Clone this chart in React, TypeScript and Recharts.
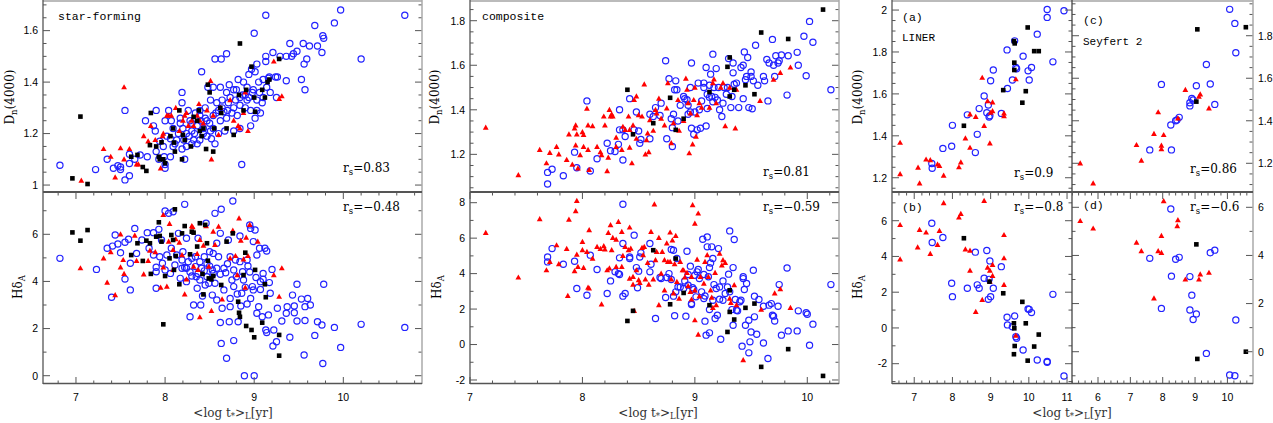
import React from 'react';
import { ScatterChart, Scatter, XAxis, YAxis } from 'recharts';

type Pt = [number, number];

// ---------------- star-forming ----------------
const sfDnBlue: Pt[] = [
  [6.82,1.077],[7.22,1.06],[7.55,1.29],[7.55,1.02],[7.6,1.036],[7.6,1.084],[7.35,1.1],[7.42,1.065],[7.47,1.075],[7.5,1.07],
  [7.5,1.06],[7.6,1.12],[7.66,1.1],[7.72,1.117],[7.8,1.11],[7.78,1.25],[7.9,1.29],[7.87,1.23],[7.89,1.21],[7.9,1.13],
  [7.94,1.17],[7.99,1.11],[8.0,1.08],[8.0,1.065],[7.98,1.15],[7.93,1.1],[8.06,1.11],[8.02,1.19],[8.0,1.25],[8.04,1.29],
  [8.07,1.25],[8.09,1.22],[8.11,1.16],[8.15,1.2],[8.19,1.36],[8.19,1.32],[8.17,1.24],[8.21,1.175],[8.22,1.1],[8.24,1.15],
  [8.26,1.29],[8.28,1.25],[8.3,1.21],[8.32,1.175],[8.36,1.23],[8.39,1.27],[8.41,1.44],[8.43,1.2],[8.45,1.3],[8.47,1.25],
  [8.51,1.33],[8.48,1.38],[8.54,1.27],[8.56,1.49],[8.56,1.16],[8.6,1.29],[8.62,1.38],[8.63,1.49],[8.64,1.33],[8.66,1.285],
  [8.69,1.51],[8.69,1.36],[8.71,1.32],[8.72,1.39],[8.75,1.28],[8.77,1.21],[8.79,1.33],[8.8,1.37],[8.82,1.41],[8.84,1.31],
  [8.86,1.08],[8.88,1.4],[8.9,1.35],[8.92,1.33],[8.94,1.43],[8.96,1.29],[8.97,1.45],[8.99,1.37],[9.0,1.59],[9.01,1.26],
  [9.03,1.47],[9.03,1.33],[9.05,1.4],[9.07,1.28],[9.1,1.34],[9.13,1.66],[9.13,1.5],[9.13,1.48],[9.14,1.38],[9.16,1.415],
  [9.18,1.36],[9.21,1.515],[9.24,1.42],[9.25,1.34],[9.26,1.42],[9.29,1.5],[9.36,1.405],[9.36,1.5],[9.4,1.55],[9.42,1.5],
  [9.44,1.51],[9.48,1.52],[9.53,1.41],[9.55,1.55],[9.56,1.47],[9.57,1.37],[9.59,1.49],[9.62,1.54],[9.68,1.62],[9.71,1.54],
  [9.76,1.515],[9.77,1.58],[9.78,1.57],[9.9,1.63],[9.97,1.68],[10.2,1.49],[10.69,1.66],
  [8.39,1.175],[8.47,1.19],[8.36,1.16],[8.43,1.22],[8.54,1.22],[8.62,1.25],[8.69,1.26],[8.77,1.3],[8.84,1.34],[8.92,1.38],
  [8.77,1.37],[8.73,1.34],[8.58,1.32],[8.54,1.38],[8.24,1.2],[8.3,1.24],[8.34,1.28],[8.39,1.29],[8.51,1.21],[8.6,1.2],
  [8.67,1.21],[8.84,1.22],[8.9,1.3],[8.96,1.23],[9.03,1.29],[9.09,1.32],[9.1,1.41],[9.17,1.42],[9.01,1.44],[8.94,1.34],
  [8.13,1.175],[8.19,1.14],[8.3,1.16],[8.09,1.15],[8.06,1.18],[8.17,1.26],[8.27,1.19],[8.33,1.2],[8.45,1.26],[8.5,1.24],
  [8.57,1.28],[8.64,1.3],[8.7,1.29],[8.81,1.27],[8.87,1.35],[8.98,1.36],[9.06,1.36],[8.2,1.22],[8.4,1.25],[8.52,1.18]
];
const sfDnRed: Pt[] = [
  [7.06,1.017],[7.31,1.14],[7.39,1.11],[7.44,1.03],[7.5,1.143],[7.54,1.1],[7.54,1.38],[7.6,1.14],[7.68,1.08],[7.7,1.08],
  [7.76,1.19],[7.81,1.17],[7.84,1.23],[7.89,1.175],[7.95,1.065],[7.97,1.19],[7.98,1.2],[8.02,1.27],[8.04,1.27],[8.07,1.27],
  [8.12,1.3],[8.16,1.21],[8.2,1.25],[8.22,1.27],[8.24,1.28],[8.36,1.27],[8.38,1.315],[8.39,1.25],[8.43,1.24],[8.51,1.405],
  [8.52,1.1],[8.54,1.27],[8.6,1.195],[8.62,1.3],[8.73,1.33],[8.77,1.25],[8.82,1.23],[8.84,1.22],[8.88,1.28],[8.9,1.36],
  [8.93,1.21],[9.22,1.48],[9.28,1.335],[9.31,1.345],[8.3,1.25],[8.32,1.23],[8.26,1.23],[8.47,1.29]
];
const sfDnBlack: Pt[] = [
  [6.96,1.026],[7.05,1.266],[7.13,1.004],[7.62,1.11],[7.69,1.117],[7.75,1.07],[7.79,1.055],[7.83,1.155],[7.84,1.28],[7.9,1.15],
  [7.93,1.11],[7.94,1.1],[7.98,1.1],[7.96,1.166],[8.0,1.085],[8.06,1.19],[8.09,1.22],[8.1,1.165],[8.11,1.13],[8.16,1.29],
  [8.19,1.1],[8.2,1.195],[8.22,1.175],[8.29,1.15],[8.32,1.265],[8.36,1.25],[8.38,1.29],[8.39,1.21],[8.41,1.19],[8.43,1.22],
  [8.46,1.14],[8.48,1.39],[8.5,1.36],[8.54,1.13],[8.55,1.22],[8.62,1.3],[8.63,1.28],[8.69,1.22],[8.77,1.195],[8.84,1.55],
  [8.83,1.35],[8.88,1.29],[8.91,1.37],[8.97,1.46],[9.0,1.34],[9.01,1.285],[9.09,1.37],[9.12,1.34],[9.15,1.4],[9.17,1.41],
  [9.28,1.49]
];
const sfHdBlue: Pt[] = [
  [6.82,4.98],[7.23,4.51],[7.4,3.33],[7.35,5.41],[7.41,5.5],[7.44,5.97],[7.47,5.59],[7.5,5.22],[7.55,4.1],[7.55,5.66],
  [7.59,5.79],[7.61,3.64],[7.61,4.77],[7.66,6.25],[7.68,5.19],[7.74,5.76],[7.8,6.07],[7.82,5.41],[7.87,6.07],[7.87,5.12],
  [7.9,4.6],[7.9,3.71],[7.93,6.21],[7.94,5.05],[7.96,5.76],[7.97,4.77],[8.0,6.99],[8.02,5.12],[8.04,6.89],[8.06,4.34],
  [8.07,5.41],[8.09,6.96],[8.11,4.7],[8.15,6.04],[8.17,4.13],[8.19,4.56],[8.2,5.26],[8.22,7.27],[8.24,5.83],[8.26,4.84],
  [8.28,2.5],[8.3,4.23],[8.32,3.0],[8.34,4.63],[8.36,3.71],[8.37,5.83],[8.39,4.06],[8.4,3.0],[8.42,3.38],[8.44,5.05],
  [8.46,6.47],[8.47,4.2],[8.49,3.92],[8.5,5.26],[8.53,3.42],[8.54,4.34],[8.56,6.89],[8.58,5.62],[8.6,5.05],[8.62,6.04],
  [8.62,2.26],[8.63,1.37],[8.63,7.06],[8.64,2.86],[8.66,3.64],[8.68,4.37],[8.69,0.74],[8.71,5.76],[8.72,2.29],[8.73,2.93],
  [8.75,4.06],[8.76,7.41],[8.77,1.49],[8.79,4.91],[8.81,3.47],[8.82,2.29],[8.84,5.93],[8.85,2.96],[8.87,4.41],[8.89,0.0],
  [8.9,3.75],[8.92,3.04],[8.93,4.66],[8.95,6.4],[8.96,6.25],[8.96,3.28],[8.98,3.78],[8.99,5.69],[9.0,0.0],[9.01,6.18],
  [9.02,4.17],[9.03,2.65],[9.05,2.93],[9.06,5.41],[9.07,3.66],[9.09,2.5],[9.1,4.34],[9.12,5.41],[9.13,1.94],[9.14,1.83],
  [9.14,5.29],[9.16,2.58],[9.17,3.95],[9.18,3.5],[9.2,4.51],[9.21,1.26],[9.22,1.94],[9.25,1.44],[9.26,2.86],[9.31,2.32],
  [9.36,2.65],[9.37,2.93],[9.4,1.63],[9.43,3.42],[9.45,2.96],[9.45,2.67],[9.48,2.32],[9.48,3.88],[9.53,3.25],[9.56,0.88],
  [9.57,2.93],[9.57,2.34],[9.6,3.28],[9.63,3.0],[9.68,1.71],[9.71,2.29],[9.76,2.15],[9.77,0.52],[9.78,3.88],[9.9,2.05],
  [9.97,1.2],[10.2,2.18],[10.69,2.05],
  [8.24,4.56],[8.34,5.05],[8.39,4.84],[8.47,4.77],[8.53,4.49],[8.58,4.56],[8.3,4.98],[8.41,4.56],[8.54,5.19],[8.77,4.49],
  [8.84,4.84],[8.92,4.91],[8.99,3.64],[9.03,5.12],[8.73,5.05],[8.66,4.56],[8.19,4.91],[8.13,5.12],[8.24,3.99],[8.37,4.34],
  [8.45,3.85],[8.58,3.21],[8.56,3.92],[8.73,3.28],[8.77,3.78],[8.88,4.06],[9.07,3.99],[9.1,4.09],[7.9,4.41],[8.0,4.49],
  [8.22,4.59],[8.28,4.4],[8.35,4.2],[8.44,4.45],[8.5,4.65],[8.62,4.3],[8.7,4.75],[8.8,4.2],[8.86,3.5],[8.95,4.4]
];
const sfHdRed: Pt[] = [
  [7.05,4.56],[7.31,4.98],[7.35,3.95],[7.39,5.24],[7.44,3.42],[7.5,6.0],[7.5,4.6],[7.53,4.91],[7.54,4.32],[7.66,5.94],
  [7.68,4.87],[7.76,4.3],[7.81,4.87],[7.83,5.31],[7.89,5.24],[7.95,3.74],[7.98,6.82],[7.98,4.6],[8.02,3.78],[8.04,5.69],
  [8.05,6.44],[8.09,4.49],[8.12,5.79],[8.16,5.65],[8.22,3.45],[8.24,4.09],[8.3,6.35],[8.31,6.3],[8.36,5.17],[8.39,2.48],
  [8.39,5.76],[8.43,5.52],[8.46,6.35],[8.52,2.75],[8.54,6.11],[8.56,5.55],[8.6,6.33],[8.64,3.24],[8.73,4.98],[8.76,6.16],
  [8.79,5.08],[8.81,4.27],[8.83,6.68],[8.85,5.73],[8.88,4.94],[8.9,3.74],[8.91,5.86],[8.93,5.08],[8.95,6.4],[9.04,5.69],
  [9.22,4.27],[9.28,3.35],[9.31,4.56],[8.32,4.63],[8.37,4.49],[8.49,4.63],[8.19,5.12],[8.09,5.34]
];
const sfHdBlack: Pt[] = [
  [6.96,6.08],[7.05,5.73],[7.13,6.18],[7.62,5.12],[7.69,5.62],[7.75,4.87],[7.79,5.73],[7.83,5.62],[7.84,4.32],[7.9,5.9],
  [7.93,6.51],[7.94,5.93],[7.96,5.69],[7.98,2.18],[8.0,4.23],[8.05,4.98],[8.07,5.97],[8.09,5.76],[8.1,4.49],[8.11,7.06],
  [8.12,5.08],[8.16,3.88],[8.19,6.04],[8.22,6.35],[8.28,5.15],[8.3,6.11],[8.32,6.07],[8.36,5.48],[8.39,6.47],[8.42,4.32],
  [8.43,3.45],[8.45,6.4],[8.47,5.62],[8.48,4.88],[8.49,4.13],[8.52,4.09],[8.54,4.23],[8.63,3.85],[8.69,5.69],[8.76,6.04],
  [8.82,3.14],[8.83,2.67],[8.84,2.5],[8.88,4.27],[8.9,5.22],[8.91,2.11],[8.97,1.94],[9.0,1.63],[9.01,4.49],[9.09,2.25],
  [9.12,3.88],[9.13,3.33],[9.28,1.73],[9.28,0.85]
];

// ---------------- composite ----------------
const coDnBlue: Pt[] = [
  [7.69,1.067],[7.69,1.119],[7.73,1.133],[7.83,1.104],[7.93,1.21],[7.95,1.14],[8.04,1.44],[8.07,1.125],[8.13,1.18],[8.22,1.25],
  [8.25,1.216],[8.29,1.213],[8.32,1.245],[8.33,1.31],[8.36,1.175],[8.36,1.31],[8.38,1.28],[8.33,1.4],[8.42,1.45],[8.46,1.31],
  [8.48,1.39],[8.5,1.305],[8.51,1.25],[8.52,1.267],[8.6,1.27],[8.6,1.38],[8.63,1.37],[8.65,1.41],[8.69,1.375],[8.7,1.43],
  [8.74,1.62],[8.75,1.27],[8.77,1.54],[8.79,1.36],[8.8,1.32],[8.8,1.235],[8.81,1.38],[8.82,1.49],[8.83,1.53],[8.84,1.49],
  [8.85,1.35],[8.87,1.42],[8.9,1.46],[8.91,1.45],[8.93,1.445],[8.94,1.38],[8.94,1.42],[8.96,1.39],[8.96,1.5],[8.97,1.61],
  [8.97,1.317],[8.99,1.29],[9.0,1.39],[9.02,1.31],[9.03,1.52],[9.04,1.4],[9.05,1.317],[9.06,1.44],[9.08,1.52],[9.08,1.5],
  [9.1,1.59],[9.1,1.327],[9.11,1.406],[9.11,1.47],[9.13,1.51],[9.13,1.456],[9.14,1.56],[9.15,1.46],[9.16,1.65],[9.16,1.436],
  [9.17,1.5],[9.18,1.456],[9.19,1.585],[9.2,1.444],[9.21,1.5],[9.22,1.4],[9.24,1.37],[9.25,1.43],[9.26,1.5],[9.28,1.47],
  [9.29,1.5],[9.3,1.63],[9.32,1.41],[9.33,1.46],[9.34,1.566],[9.34,1.61],[9.35,1.515],[9.37,1.52],[9.39,1.41],[9.41,1.59],
  [9.43,1.6],[9.43,1.45],[9.44,1.66],[9.45,1.535],[9.46,1.55],[9.47,1.635],[9.48,1.41],[9.5,1.57],[9.5,1.55],[9.51,1.405],
  [9.52,1.53],[9.54,1.69],[9.56,1.51],[9.61,1.55],[9.62,1.53],[9.64,1.626],[9.65,1.44],[9.66,1.61],[9.69,1.716],[9.7,1.6],
  [9.71,1.55],[9.72,1.643],[9.74,1.61],[9.75,1.62],[9.77,1.646],[9.82,1.466],[9.83,1.643],[9.91,1.658],[9.92,1.6],[9.97,1.73],
  [9.99,1.553],[10.02,1.797],[10.05,1.703],[10.21,1.49]
];
const coDnRed: Pt[] = [
  [7.14,1.32],[7.43,1.107],[7.62,1.22],[7.68,1.16],[7.71,1.207],[7.77,1.234],[7.79,1.2],[7.86,1.175],[7.88,1.29],[7.91,1.154],
  [7.93,1.317],[7.94,1.33],[7.94,1.24],[7.95,1.29],[7.96,1.137],[7.98,1.197],[8.0,1.3],[8.01,1.287],[8.01,1.234],[8.04,1.405],
  [8.05,1.33],[8.05,1.22],[8.06,1.13],[8.09,1.327],[8.13,1.234],[8.16,1.21],[8.17,1.197],[8.19,1.37],[8.2,1.33],[8.22,1.125],
  [8.23,1.185],[8.24,1.4],[8.25,1.37],[8.26,1.38],[8.27,1.37],[8.3,1.275],[8.3,1.234],[8.35,1.22],[8.36,1.324],[8.38,1.31],
  [8.41,1.37],[8.42,1.23],[8.42,1.31],[8.44,1.16],[8.45,1.33],[8.46,1.444],[8.48,1.46],[8.48,1.27],[8.5,1.376],[8.53,1.37],
  [8.55,1.514],[8.56,1.2],[8.57,1.264],[8.58,1.294],[8.59,1.21],[8.6,1.354],[8.63,1.306],[8.65,1.4],[8.66,1.384],[8.68,1.45],
  [8.7,1.36],[8.73,1.33],[8.75,1.406],[8.76,1.52],[8.79,1.25],[8.81,1.34],[8.85,1.444],[8.86,1.306],[8.9,1.35],[8.92,1.54],
  [8.93,1.49],[8.94,1.43],[8.95,1.205],[8.96,1.384],[8.98,1.245],[8.99,1.444],[9.0,1.5],[9.01,1.28],[9.02,1.376],[9.04,1.43],
  [9.06,1.41],[9.13,1.41],[9.16,1.52],[9.17,1.537],[9.19,1.43],[9.23,1.5],[9.25,1.52],[9.27,1.327],[9.31,1.5],[9.36,1.317],
  [9.37,1.49],[9.58,1.44],[9.7,1.535],[9.76,1.566],[9.85,1.59]
];
const coDnBlack: Pt[] = [
  [8.4,1.49],[8.45,1.29],[8.63,1.34],[8.78,1.454],[8.83,1.31],[8.9,1.36],[9.13,1.48],[9.29,1.593],[9.31,1.635],[9.31,1.46],
  [9.35,1.49],[9.45,1.51],[9.53,1.47],[9.59,1.747],[9.83,1.718],[10.14,1.85]
];
const coHdBlue: Pt[] = [
  [7.69,4.94],[7.69,4.66],[7.73,5.41],[7.83,4.53],[7.93,4.7],[7.95,3.16],[8.04,2.78],[8.07,5.04],[8.13,4.23],[8.22,2.88],
  [8.25,3.59],[8.29,4.1],[8.32,4.0],[8.33,3.95],[8.33,4.89],[8.36,2.73],[8.36,5.7],[8.36,7.91],[8.38,2.88],[8.42,4.85],
  [8.42,4.94],[8.46,6.17],[8.48,4.34],[8.49,3.2],[8.5,4.14],[8.51,4.94],[8.52,5.17],[8.6,5.7],[8.6,4.1],[8.61,4.53],
  [8.65,1.47],[8.69,3.78],[8.7,3.72],[8.74,2.65],[8.75,3.78],[8.77,4.0],[8.79,5.36],[8.79,3.67],[8.81,5.32],[8.81,2.73],
  [8.82,1.62],[8.83,2.97],[8.84,4.85],[8.85,3.25],[8.87,3.25],[8.9,3.16],[8.91,3.59],[8.92,1.6],[8.93,5.26],[8.94,3.95],
  [8.94,3.35],[8.96,4.42],[8.97,2.31],[8.97,2.26],[8.98,3.2],[8.99,3.1],[9.0,3.91],[9.01,2.69],[9.02,4.1],[9.03,4.23],
  [9.04,3.72],[9.06,2.97],[9.07,5.94],[9.08,3.95],[9.08,2.59],[9.09,2.74],[9.09,1.32],[9.1,0.53],[9.11,6.07],[9.11,5.51],
  [9.12,3.82],[9.13,1.97],[9.13,4.34],[9.13,0.66],[9.14,4.6],[9.15,5.51],[9.16,4.85],[9.16,2.5],[9.17,3.38],[9.18,1.47],
  [9.19,3.16],[9.2,1.65],[9.21,5.41],[9.22,2.56],[9.22,3.25],[9.23,0.3],[9.25,3.59],[9.25,2.5],[9.27,2.88],[9.29,3.25],
  [9.3,3.97],[9.31,2.97],[9.31,6.41],[9.33,1.97],[9.34,4.34],[9.34,1.09],[9.35,5.92],[9.36,2.54],[9.37,1.94],[9.38,1.9],
  [9.4,2.41],[9.41,2.5],[9.42,-0.09],[9.43,3.82],[9.43,3.72],[9.44,3.1],[9.45,1.09],[9.46,3.44],[9.48,1.37],[9.48,-0.47],
  [9.49,0.15],[9.5,0.71],[9.52,4.19],[9.53,2.73],[9.53,1.56],[9.55,0.58],[9.57,2.54],[9.61,2.16],[9.61,0.09],[9.65,-0.79],
  [9.66,2.22],[9.68,2.31],[9.69,1.65],[9.7,1.6],[9.71,1.33],[9.74,2.16],[9.75,3.38],[9.77,0.53],[9.82,4.32],[9.83,0.77],
  [9.91,0.77],[9.92,1.9],[9.99,1.79],[10.0,1.71],[10.02,-0.04],[10.05,1.15],[10.21,3.38]
];
const coHdRed: Pt[] = [
  [7.14,6.3],[7.43,3.78],[7.62,7.07],[7.68,4.19],[7.71,4.66],[7.77,5.6],[7.79,4.53],[7.86,5.39],[7.88,7.05],[7.87,2.74],
  [7.93,4.14],[7.94,7.52],[7.95,8.1],[7.95,5.07],[7.96,4.38],[8.0,5.79],[8.0,5.32],[8.01,4.32],[8.04,5.23],[8.05,3.21],
  [8.06,6.45],[8.06,3.16],[8.09,4.85],[8.13,5.51],[8.16,5.39],[8.17,2.27],[8.19,5.55],[8.2,5.36],[8.22,4.19],[8.23,6.3],
  [8.24,4.29],[8.25,6.73],[8.26,5.32],[8.27,6.02],[8.3,4.38],[8.3,5.92],[8.32,6.92],[8.35,4.38],[8.35,6.35],[8.36,5.0],
  [8.38,5.51],[8.41,5.32],[8.42,6.6],[8.42,3.72],[8.43,5.41],[8.45,3.82],[8.45,3.38],[8.46,1.9],[8.48,4.19],[8.5,3.63],
  [8.51,3.48],[8.53,5.45],[8.54,5.04],[8.55,5.51],[8.56,3.67],[8.58,4.6],[8.59,3.38],[8.61,6.35],[8.63,3.67],[8.64,7.9],
  [8.65,4.76],[8.66,5.23],[8.68,2.22],[8.68,6.02],[8.7,4.0],[8.71,5.23],[8.73,3.06],[8.73,4.76],[8.75,5.7],[8.76,4.66],
  [8.78,6.32],[8.78,4.66],[8.79,3.67],[8.8,5.88],[8.81,2.88],[8.82,4.53],[8.83,6.13],[8.84,3.53],[8.86,2.59],[8.87,4.66],
  [8.89,4.19],[8.9,4.19],[8.91,3.78],[8.93,4.04],[8.94,3.29],[8.96,2.97],[8.97,2.54],[8.97,3.82],[8.98,7.86],[9.0,6.82],
  [9.0,1.37],[9.0,3.06],[9.02,4.79],[9.03,0.56],[9.03,7.39],[9.04,2.72],[9.05,3.82],[9.08,3.44],[9.09,4.66],[9.11,5.04],
  [9.12,3.82],[9.14,3.06],[9.15,2.65],[9.16,2.07],[9.18,4.04],[9.19,2.22],[9.22,5.13],[9.24,4.47],[9.25,4.76],[9.27,4.6],
  [9.31,2.59],[9.32,2.35],[9.35,3.35],[9.37,2.22],[9.43,-0.88],[9.59,1.97],[9.71,2.88],[9.76,3.12],[9.85,2.07]
];
const coHdBlack: Pt[] = [
  [8.4,1.33],[8.45,1.9],[8.63,5.32],[8.78,2.27],[8.83,4.85],[8.9,2.91],[9.13,2.22],[9.29,0.71],[9.31,3.06],[9.31,1.84],
  [9.35,1.41],[9.45,2.07],[9.53,2.31],[9.59,-1.26],[9.83,-0.26],[10.14,-1.77]
];

// ---------------- LINER ----------------
const liDnBlue: Pt[] = [
  [7.46,1.268],[7.47,1.245],[7.75,1.34],[7.98,1.35],[8.0,1.45],[8.39,1.5],[8.6,1.32],[8.65,1.407],[8.7,1.53],[8.83,1.59],
  [8.9,1.51],[8.94,1.547],[8.96,1.49],[8.98,1.496],[9.0,1.663],[9.07,1.714],[9.28,1.507],[9.43,1.81],[9.44,1.626],[9.57,1.666],
  [9.63,1.853],[9.66,1.726],[9.68,1.72],[9.85,1.78],[9.98,1.71],[10.01,1.666],[10.07,1.726],[10.22,1.885],[10.48,1.965],[10.48,2.003],
  [10.63,1.753],[10.92,1.997]
];
const liDnRed: Pt[] = [
  [6.63,1.367],[6.63,1.217],[7.1,1.248],[7.14,1.173],[7.31,1.287],[7.42,1.284],[7.61,1.264],[7.66,1.257],[7.77,1.21],[8.17,1.25],
  [8.22,1.273],[8.34,1.388],[8.46,1.343],[8.46,1.502],[8.61,1.49],[8.78,1.677],[8.83,1.447],[8.92,1.566],[8.98,1.364],[9.0,1.51],
  [9.05,1.56],[9.05,1.518],[9.35,1.507],[9.35,1.494],[9.66,1.67]
];
const liDnBlack: Pt[] = [
  [8.3,1.448],[9.33,1.618],[9.61,1.852],[9.62,1.749],[9.62,1.714],[9.63,1.841],[9.83,1.558],[9.92,1.613],[9.97,1.917],[10.14,1.804],
  [10.26,1.804]
];
const liHdBlue: Pt[] = [
  [7.46,5.86],[7.47,4.78],[7.75,5.06],[7.98,2.5],[8.0,1.75],[8.39,2.22],[8.6,4.24],[8.65,2.41],[8.7,2.22],[8.83,2.78],
  [8.9,4.33],[8.94,1.6],[8.96,2.72],[8.98,3.75],[9.0,1.75],[9.07,2.22],[9.28,3.43],[9.43,0.6],[9.44,0.17],[9.57,0.07],
  [9.63,0.67],[9.66,-0.49],[9.68,-0.58],[9.85,-1.23],[9.98,1.06],[10.01,1.04],[10.07,0.86],[10.22,-1.79],[10.48,-1.88],[10.48,-1.92],
  [10.63,1.88],[10.92,-2.69]
];
const liHdRed: Pt[] = [
  [6.63,5.76],[6.63,3.84],[7.09,4.51],[7.14,5.49],[7.31,5.34],[7.42,4.14],[7.61,4.65],[7.66,5.43],[7.77,6.98],[8.17,6.18],
  [8.22,6.38],[8.34,4.4],[8.46,4.33],[8.46,3.21],[8.61,0.9],[8.78,1.57],[8.83,7.11],[8.92,3.38],[8.98,3.21],[8.98,2.59],
  [9.05,3.53],[9.05,2.91],[9.35,5.2],[9.35,3.9],[9.35,2.41],[9.66,-0.43]
];
const liHdBlack: Pt[] = [
  [8.3,5.02],[8.97,2.59],[9.33,1.94],[9.61,0.26],[9.62,-0.02],[9.63,-1.01],[9.61,-1.47],[9.83,1.46],[9.92,0.26],[9.97,-1.83],
  [10.14,-1.04],[10.26,-0.37]
];

// ---------------- Seyfert 2 ----------------
const syDnBlue: Pt[] = [
  [7.6,1.263],[7.96,1.571],[8.25,1.38],[8.27,1.263],[8.4,1.4],[8.44,1.404],[8.51,1.416],[8.84,1.47],[8.84,1.485],[8.9,1.505],
  [8.94,1.498],[9.04,1.565],[9.35,1.665],[9.47,1.573],[9.61,1.477],[10.07,1.924],[10.23,1.858],[10.26,1.72]
];
const syDnRed: Pt[] = [
  [5.45,1.2],[5.85,1.106],[7.19,1.286],[7.34,1.213],[7.73,1.338],[7.86,1.44],[7.96,1.283],[7.96,1.267],[8.03,1.333],[8.47,1.411],
  [8.7,1.545],[9.12,1.513],[9.16,1.524],[9.43,1.458]
];
const syDnBlack: Pt[] = [[9.07,1.83],[9.04,1.49],[10.57,1.84]];
const syHdBlue: Pt[] = [
  [7.6,3.88],[7.96,1.8],[8.25,5.93],[8.27,3.14],[8.4,3.84],[8.51,3.92],[8.84,3.12],[8.84,1.73],[8.9,2.35],[8.94,1.34],
  [9.04,1.57],[9.47,4.11],[9.61,4.22],[9.35,-0.07],[10.07,-0.97],[10.23,-1.0],[10.26,1.32]
];
const syHdRed: Pt[] = [
  [5.45,5.43],[5.85,5.12],[7.19,4.53],[7.34,4.18],[7.73,2.22],[7.86,4.18],[7.96,4.11],[8.03,6.26],[8.47,5.47],[8.45,5.22],
  [7.96,4.81],[8.7,3.0],[9.12,3.0],[9.16,3.21],[9.43,3.28]
];
const syHdBlack: Pt[] = [[9.04,4.46],[9.07,-0.3],[10.57,0.0]];

// ---------------- helpers ----------------
const toData = (a: Pt[]) => a.map(([x, y]) => ({ x, y }));

function ticksFor(min: number, max: number, step: number): number[] {
  const out: number[] = [];
  const s = Math.ceil(min / step - 1e-9);
  const e = Math.floor(max / step + 1e-9);
  for (let i = s; i <= e; i++) out.push(Math.round(i * step * 10000) / 10000);
  return out;
}
const isMajor = (v: number, step: number) => Math.abs(v / step - Math.round(v / step)) < 1e-6;
const fmt = (v: number) => String(Number(v.toFixed(2)));

const TICK_FONT = '"Liberation Sans", Arial, sans-serif';
const SERIF = '"DejaVu Serif", serif';
const MONO = '"Liberation Mono", monospace';
const TICK_COL = '#555';

const Circ = (p: any) => (
  <circle cx={p.cx} cy={p.cy} r={3.1} fill="none" stroke="#2222ff" strokeWidth={1.2} />
);
const Tri = (p: any) => (
  <path d={`M${p.cx},${p.cy - 3.1}L${p.cx + 2.9},${p.cy + 2.1}L${p.cx - 2.9},${p.cy + 2.1}Z`} fill="#ff0000" />
);
const Sq = (p: any) => <rect x={p.cx - 2.3} y={p.cy - 2.3} width={4.6} height={4.6} fill="#000" />;

interface PanelCfg {
  fx: number; fy: number; fw: number; fh: number;
  xDom: [number, number]; yDom: [number, number];
  xMinor: number; xMajor: number; yMinor: number; yMajor: number;
  xLabels: boolean; ySide: 'left' | 'right';
  blue: Pt[]; red: Pt[]; black: Pt[];
}

function Panel(c: PanelCfg) {
  const AW = 34;
  const XH = c.xLabels ? 24 : 0;
  const w = c.fw + AW;
  const h = c.fh + XH;
  const left = c.ySide === 'left' ? c.fx - AW : c.fx;
  const xt = ticksFor(c.xDom[0], c.xDom[1], c.xMinor);
  const yt = ticksFor(c.yDom[0], c.yDom[1], c.yMinor);

  const XTick = (p: any) => {
    const v = p.payload.value as number;
    const maj = isMajor(v, c.xMajor);
    const len = maj ? 7 : 3.5;
    const x = p.x, y = p.y;
    return (
      <g>
        <line x1={x} x2={x} y1={y} y2={y - len} stroke={TICK_COL} strokeWidth={1} />
        <line x1={x} x2={x} y1={y - c.fh} y2={y - c.fh + len} stroke={TICK_COL} strokeWidth={1} />
        {c.xLabels && maj ? (
          <text x={x} y={y + 17} textAnchor="middle" fontSize={10.5} fontFamily={TICK_FONT} fill="#000">{fmt(v)}</text>
        ) : null}
      </g>
    );
  };
  const YTick = (p: any) => {
    const v = p.payload.value as number;
    const maj = isMajor(v, c.yMajor);
    const len = maj ? 7 : 3.5;
    const x = p.x, y = p.y;
    const sgn = c.ySide === 'left' ? 1 : -1;
    const far = x + sgn * c.fw;
    return (
      <g>
        <line x1={x} x2={x + sgn * len} y1={y} y2={y} stroke={TICK_COL} strokeWidth={1} />
        <line x1={far} x2={far - sgn * len} y1={y} y2={y} stroke={TICK_COL} strokeWidth={1} />
        {maj ? (
          <text x={x - sgn * 5} y={y + 3.8} textAnchor={c.ySide === 'left' ? 'end' : 'start'} fontSize={10.5} fontFamily={TICK_FONT} fill="#000">{fmt(v)}</text>
        ) : null}
      </g>
    );
  };

  return (
    <div style={{ position: 'absolute', left, top: c.fy, width: w, height: h }}>
      <ScatterChart width={w} height={h} margin={{ top: 0, right: 0, bottom: 0, left: 0 }}>
        <XAxis type="number" dataKey="x" domain={c.xDom} allowDataOverflow ticks={xt} interval={0}
          tick={XTick} tickLine={false} axisLine={false} tickSize={0} tickMargin={0} height={XH} />
        <YAxis type="number" dataKey="y" domain={c.yDom} allowDataOverflow ticks={yt} interval={0}
          tick={YTick} tickLine={false} axisLine={false} tickSize={0} tickMargin={0} width={AW} orientation={c.ySide} />
        <Scatter data={toData(c.blue)} shape={Circ} isAnimationActive={false} />
        <Scatter data={toData(c.red)} shape={Tri} isAnimationActive={false} />
        <Scatter data={toData(c.black)} shape={Sq} isAnimationActive={false} />
      </ScatterChart>
    </div>
  );
}

const Rs = ({ x, y, v }: { x: number; y: number; v: string }) => (
  <text x={x} y={y} fontFamily={SERIF} fontSize={12} fill="#000">
    r<tspan fontSize={8.5} dy={3}>s</tspan><tspan dy={-3}>={v}</tspan>
  </text>
);
const DnTitle = ({ cx, cy }: { cx: number; cy: number }) => (
  <text x={cx} y={cy} transform={`rotate(-90 ${cx} ${cy})`} textAnchor="middle" fontFamily={SERIF} fontSize={12} fill="#000">
    D<tspan fontSize={8.5} dy={3}>n</tspan><tspan dy={-3}>(4000)</tspan>
  </text>
);
const HdTitle = ({ cx, cy }: { cx: number; cy: number }) => (
  <text x={cx} y={cy} transform={`rotate(-90 ${cx} ${cy})`} textAnchor="middle" fontFamily={SERIF} fontSize={12} fill="#000">
    Hδ<tspan fontSize={8.5} dy={3}>A</tspan>
  </text>
);
const XTitle = ({ cx, y }: { cx: number; y: number }) => (
  <text x={cx} y={y} textAnchor="middle" fontFamily={SERIF} fontSize={12} fill="#333">
    &lt;log t<tspan fontSize={8.5} dy={2}>*</tspan><tspan dy={-2}>&gt;</tspan><tspan fontSize={8.5} dy={2}>L</tspan><tspan dy={-2}>[yr]</tspan>
  </text>
);

function Frame({ x0, x1, mids = [] }: { x0: number; x1: number; mids?: number[] }) {
  return (
    <g>
      <line x1={x0} x2={x1} y1={1} y2={1} stroke="#bbb" strokeWidth={2} />
      <line x1={x0} x2={x0} y1={0} y2={384} stroke="#555" strokeWidth={1.3} />
      <line x1={x1} x2={x1} y1={0} y2={384} stroke="#aaa" strokeWidth={1.5} />
      {mids.map((m) => <line key={m} x1={m} x2={m} y1={0} y2={384} stroke="#444" strokeWidth={1.3} />)}
      <line x1={x0} x2={x1} y1={192} y2={192} stroke="#555" strokeWidth={2} />
      <line x1={x0} x2={x1} y1={383.5} y2={383.5} stroke="#555" strokeWidth={1.3} />
    </g>
  );
}

export default function App() {
  return (
    <div style={{ position: 'absolute', left: 0, top: 0, width: 1273, height: 423, background: '#fff', overflow: 'hidden' }}>
      {/* star-forming */}
      <Panel fx={43} fy={0} fw={379} fh={192} xDom={[6.63, 10.883]} yDom={[0.973, 1.719]}
        xMinor={0.2} xMajor={1} yMinor={0.05} yMajor={0.2} xLabels={false} ySide="left"
        blue={sfDnBlue} red={sfDnRed} black={sfDnBlack} />
      <Panel fx={43} fy={192} fw={379} fh={192} xDom={[6.63, 10.883]} yDom={[-0.352, 7.795]}
        xMinor={0.2} xMajor={1} yMinor={1} yMajor={2} xLabels={true} ySide="left"
        blue={sfHdBlue} red={sfHdRed} black={sfHdBlack} />
      {/* composite */}
      <Panel fx={470} fy={0} fw={369} fh={192} xDom={[7.0, 10.282]} yDom={[1.031, 1.893]}
        xMinor={0.2} xMajor={1} yMinor={0.05} yMajor={0.2} xLabels={false} ySide="left"
        blue={coDnBlue} red={coDnRed} black={coDnBlack} />
      <Panel fx={470} fy={192} fw={369} fh={192} xDom={[7.0, 10.282]} yDom={[-2.226, 8.603]}
        xMinor={0.2} xMajor={1} yMinor={1} yMajor={2} xLabels={true} ySide="left"
        blue={coHdBlue} red={coHdRed} black={coHdBlack} />
      {/* LINER */}
      <Panel fx={892} fy={0} fw={180} fh={192} xDom={[6.418, 11.13]} yDom={[1.132, 2.048]}
        xMinor={0.2} xMajor={1} yMinor={0.05} yMajor={0.2} xLabels={false} ySide="left"
        blue={liDnBlue} red={liDnRed} black={liDnBlack} />
      <Panel fx={892} fy={192} fw={180} fh={192} xDom={[6.418, 11.13]} yDom={[-3.136, 7.606]}
        xMinor={0.2} xMajor={1} yMinor={1} yMajor={2} xLabels={true} ySide="left"
        blue={liHdBlue} red={liHdRed} black={liHdBlack} />
      {/* Seyfert 2 */}
      <Panel fx={1072} fy={0} fw={181} fh={192} xDom={[5.196, 10.791]} yDom={[1.065, 1.968]}
        xMinor={0.2} xMajor={1} yMinor={0.05} yMajor={0.2} xLabels={false} ySide="right"
        blue={syDnBlue} red={syDnRed} black={syDnBlack} />
      <Panel fx={1072} fy={192} fw={181} fh={192} xDom={[5.196, 10.791]} yDom={[-1.342, 6.636]}
        xMinor={0.2} xMajor={1} yMinor={1} yMajor={2} xLabels={true} ySide="right"
        blue={syHdBlue} red={syHdRed} black={syHdBlack} />

      <svg width={1273} height={423} style={{ position: 'absolute', left: 0, top: 0, pointerEvents: 'none' }}>
        <Frame x0={43} x1={422} />
        <Frame x0={470} x1={839} />
        <Frame x0={892} x1={1253} mids={[1072]} />

        <text x={58} y={20} fontFamily={MONO} fontSize={11.5} fill="#000">star-forming</text>
        <text x={482} y={20} fontFamily={MONO} fontSize={11.5} fill="#000">composite</text>
        <text x={902} y={21} fontFamily={MONO} fontSize={11.5} fill="#000">(a)</text>
        <text x={902} y={41} fontFamily={MONO} fontSize={11} fill="#000">LINER</text>
        <text x={1083} y={24} fontFamily={MONO} fontSize={11.5} fill="#000">(c)</text>
        <text x={1083} y={45} fontFamily={MONO} fontSize={11} fill="#000">Seyfert 2</text>
        <text x={902} y={211} fontFamily={MONO} fontSize={11.5} fill="#000">(b)</text>
        <text x={1083} y={209} fontFamily={MONO} fontSize={11.5} fill="#000">(d)</text>

        <Rs x={343} y={172} v="0.83" />
        <Rs x={343} y={211} v="−0.48" />
        <Rs x={763} y={176} v="0.81" />
        <Rs x={763} y={211} v="−0.59" />
        <Rs x={1014} y={177} v="0.9" />
        <Rs x={1014} y={211} v="−0.8" />
        <Rs x={1190} y={173} v="0.86" />
        <Rs x={1190} y={211} v="−0.6" />

        <DnTitle cx={14} cy={97} />
        <HdTitle cx={22} cy={287} />
        <DnTitle cx={439} cy={97} />
        <HdTitle cx={441} cy={287} />
        <DnTitle cx={862} cy={97} />
        <HdTitle cx={862} cy={287} />

        <XTitle cx={233} y={417} />
        <XTitle cx={658} y={417} />
        <XTitle cx={1072} y={417} />
      </svg>
    </div>
  );
}
